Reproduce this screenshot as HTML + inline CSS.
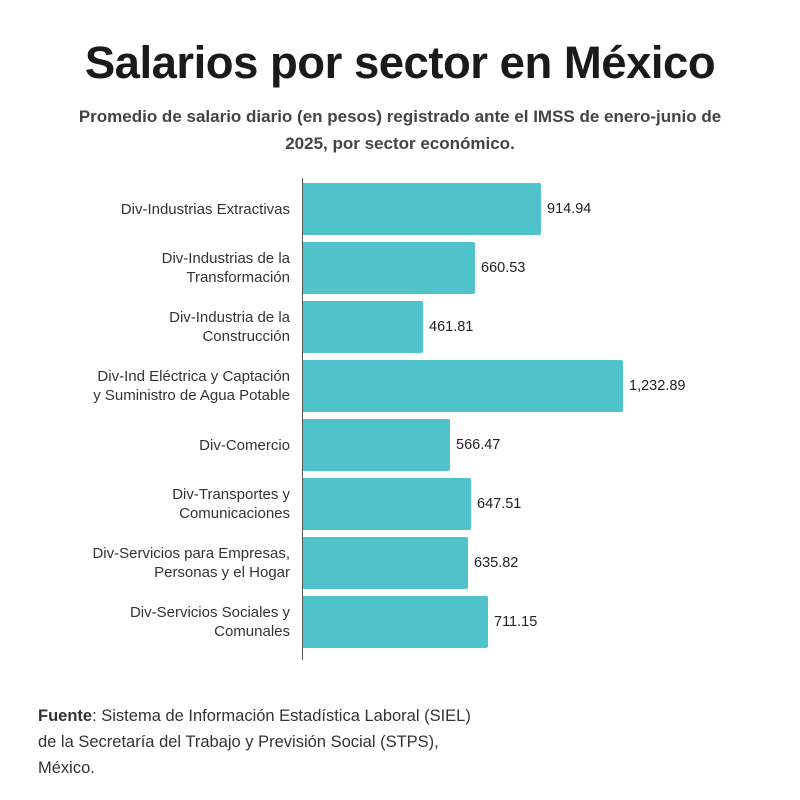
<!DOCTYPE html>
<html><head><meta charset="utf-8"><style>
body{margin:0;background:#fff;width:800px;height:800px;position:relative;font-family:"Liberation Sans",sans-serif;overflow:hidden}
.t{position:absolute;left:0;width:800px;text-align:center;top:37px;font-size:45.5px;font-weight:bold;color:#1a1a1a;letter-spacing:-0.5px}
.s{position:absolute;left:50px;width:700px;text-align:center;top:103px;font-size:17px;font-weight:bold;color:#444;line-height:27px}
.ax{position:absolute;left:302px;top:178px;width:1px;height:482px;background:#555}
.b{position:absolute;left:303px;height:52px;background:#50c2ca;border-radius:0 2px 2px 0}
.v{position:absolute;font-size:14.5px;color:#222}
.l{position:absolute;right:510px;text-align:right;font-size:15px;color:#333;line-height:19px}
.f{position:absolute;left:38px;top:703px;font-size:16.5px;color:#333;line-height:26px}
</style></head><body>
<div class="t">Salarios por sector en México</div>
<div class="s">Promedio de salario diario (en pesos) registrado ante el IMSS de enero-junio de<br>2025, por sector económico.</div>
<div class="ax"></div>

<div class="b" style="top:183px;width:238px"></div><div class="v" style="left:547px;top:201px">914.94</div>
<div class="l" style="top:200px">Div-Industrias Extractivas</div>

<div class="b" style="top:242px;width:172px"></div><div class="v" style="left:481px;top:260px">660.53</div>
<div class="l" style="top:249px">Div-Industrias de la<br>Transformación</div>

<div class="b" style="top:301px;width:120px"></div><div class="v" style="left:429px;top:319px">461.81</div>
<div class="l" style="top:308px">Div-Industria de la<br>Construcción</div>

<div class="b" style="top:360px;width:320px"></div><div class="v" style="left:629px;top:378px">1,232.89</div>
<div class="l" style="top:367px">Div-Ind Eléctrica y Captación<br>y Suministro de Agua Potable</div>

<div class="b" style="top:419px;width:147px"></div><div class="v" style="left:456px;top:437px">566.47</div>
<div class="l" style="top:436px">Div-Comercio</div>

<div class="b" style="top:478px;width:168px"></div><div class="v" style="left:477px;top:496px">647.51</div>
<div class="l" style="top:485px">Div-Transportes y<br>Comunicaciones</div>

<div class="b" style="top:537px;width:165px"></div><div class="v" style="left:474px;top:555px">635.82</div>
<div class="l" style="top:544px">Div-Servicios para Empresas,<br>Personas y el Hogar</div>

<div class="b" style="top:596px;width:185px"></div><div class="v" style="left:494px;top:614px">711.15</div>
<div class="l" style="top:603px">Div-Servicios Sociales y<br>Comunales</div>

<div class="f"><b>Fuente</b>: Sistema de Información Estadística Laboral (SIEL)<br>de la Secretaría del Trabajo y Previsión Social (STPS),<br>México.</div>
</body></html>
